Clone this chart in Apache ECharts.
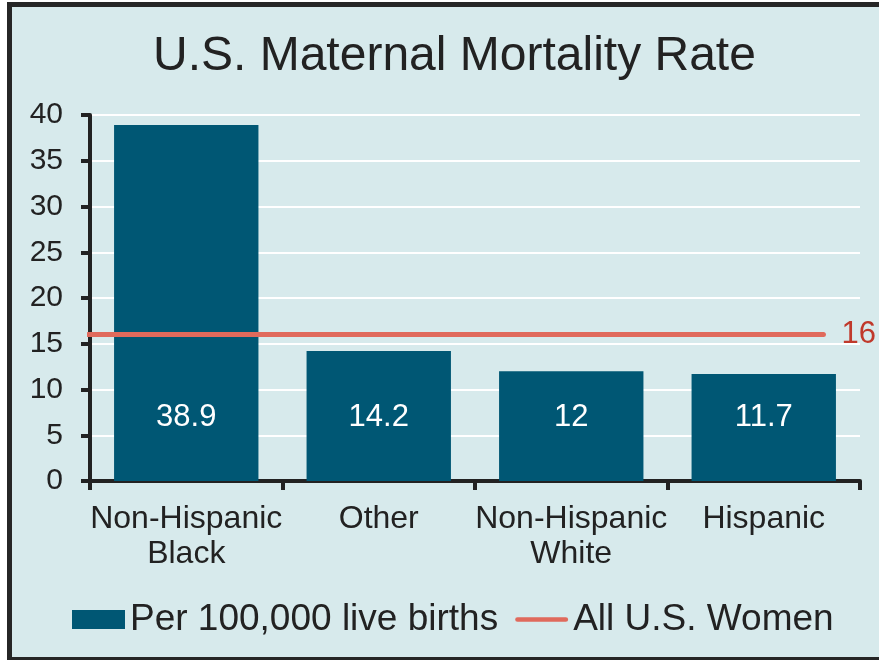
<!DOCTYPE html>
<html>
<head>
<meta charset="utf-8">
<script src="https://cdn.jsdelivr.net/npm/echarts@6/dist/echarts.min.js"></script>
<style>
html,body{margin:0;padding:0;width:879px;height:660px;overflow:hidden;background:#ffffff;}
#frame{position:absolute;left:7px;top:2px;width:900px;height:660px;border:5px solid #262626;background:#d7eaec;box-sizing:border-box;}
#chart{position:absolute;left:0;top:0;width:879px;height:660px;}
</style>
</head>
<body>
<div id="frame"></div>
<div id="chart"></div>
<script>
const titleText = 'U.S. Maternal Mortality Rate';
const categories = ['Non-Hispanic\nBlack', 'Other', 'Non-Hispanic\nWhite', 'Hispanic'];
const barName = 'Per 100,000 live births';
const barValues = [38.9, 14.2, 12, 11.7];
const lineName = 'All U.S. Women';
const lineX = [-0.01, 3.81];
const lineY = [16, 16];
const yTicks = [0, 5, 10, 15, 20, 25, 30, 35, 40];

const FONT = '"Liberation Sans", Arial, sans-serif';
const chart = echarts.init(document.getElementById('chart'), null, {renderer: 'canvas'});
chart.setOption({
  backgroundColor: 'transparent',
  animation: false,
  textStyle: {fontFamily: FONT},
  title: {
    text: titleText, left: 148, top: 28,
    textStyle: {fontSize: 48, fontWeight: 'normal', color: '#222', fontFamily: FONT}
  },
  legend: {
    top: 596, left: 67, itemWidth: 53, itemHeight: 19, itemGap: 17,
    symbolKeepAspect: true,
    textStyle: {fontSize: 37, color: '#222', fontFamily: FONT},
    data: [
      {name: barName, icon: 'rect'},
      {name: lineName, icon: 'path://M2.5,0H53.5A2.5,2.5 0 0 1 53.5,5H2.5A2.5,2.5 0 0 1 2.5,0Z'}
    ]
  },
  grid: {left: 90, right: 19, top: 115, bottom: 179, containLabel: false},
  xAxis: [{
    type: 'category', data: categories,
    axisLine: {show: true, lineStyle: {color: '#222', width: 4}},
    axisTick: {show: true, length: 9, lineStyle: {color: '#222', width: 4}},
    axisLabel: {fontSize: 32, color: '#222', lineHeight: 35, margin: 21, fontFamily: FONT, interval: 0},
    splitLine: {show: false}
  }, {
    type: 'value', min: 0, max: 4, show: false
  }],
  yAxis: {
    type: 'value', min: yTicks[0], max: yTicks[yTicks.length - 1], interval: 5,
    axisLine: {show: true, lineStyle: {color: '#222', width: 4}},
    axisTick: {show: true, length: 9, lineStyle: {color: '#222', width: 4}},
    axisLabel: {fontSize: 30, color: '#222', margin: 27, fontFamily: FONT},
    splitLine: {show: true, lineStyle: {color: '#ffffff', width: 2}}
  },
  series: [{
    name: barName, type: 'bar', data: barValues, barCategoryGap: '25%',
    itemStyle: {color: '#005774'},
    label: {show: true, position: 'insideBottom', distance: 48, fontSize: 31, color: '#ffffff', fontFamily: FONT}
  }, {
    name: lineName, type: 'line', xAxisIndex: 1, clip: false,
    data: lineX.map((x, i) => [x, lineY[i]]),
    symbol: 'none',
    lineStyle: {color: '#e06a5c', width: 5, cap: 'round'},
    itemStyle: {color: '#e06a5c'},
    endLabel: {show: true, formatter: p => p.value[1], fontSize: 31, color: '#c0392b', distance: 18, fontFamily: FONT},
    z: 5
  }]
});
</script>
</body>
</html>
